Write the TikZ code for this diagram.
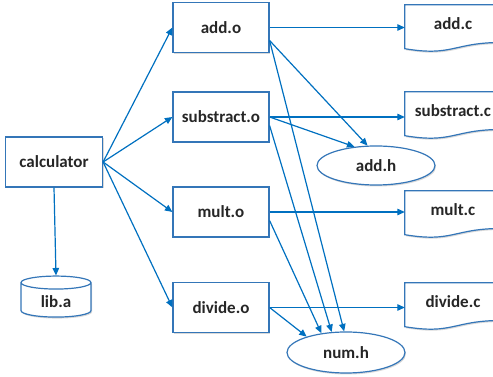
\documentclass[tikz,border=0pt]{standalone}
\usepackage{fontspec}
\setmainfont{Carlito}
\usetikzlibrary{arrows.meta}
\usetikzlibrary{calc}
\usetikzlibrary{shapes}
\usetikzlibrary{shadows}
\usetikzlibrary{backgrounds}

\definecolor{bleu}{RGB}{0,112,192}
\definecolor{bord}{RGB}{52,118,184}

\tikzset{
  ombre/.style={drop shadow={shadow xshift=1pt,shadow yshift=-1.5pt,opacity=.3}},
  obj/.style={draw=bord,line width=1.2pt,fill=white,ombre,minimum width=96pt,minimum height=50pt,
    text=black!85,font=\fontsize{17}{20}\selectfont\bfseries},
  base/.style={cylinder,shape border rotate=90,aspect=0.35,draw=bord,line width=1.2pt,fill=white,ombre,
    minimum height=41pt,minimum width=70pt,text=black!85,font=\fontsize{17}{20}\selectfont\bfseries},
  doc/.style={minimum width=96pt,minimum height=38pt,inner sep=1pt,
    text=black!85,font=\fontsize{17}{20}\selectfont\bfseries},
  entete/.style={ellipse,draw=bord,line width=1.2pt,fill=white,ombre,minimum width=118pt,minimum height=39pt,
    inner sep=0pt,text=black!85,font=\fontsize{17}{20}\selectfont\bfseries},
  fl/.style={draw=bleu,line width=1.2pt,-{Triangle[length=7.5pt,width=6.5pt]}}
}

\begin{document}
\begin{tikzpicture}[x=1pt,y=1pt]
\useasboundingbox (0,0) rectangle (493,377);
% noeuds
\node[obj,minimum width=97pt] (calc) at (54,215) {calculator};
\node[base] (liba) at (56,75.5) {lib.a};
\node[obj] (addo) at (221,349.5) {add.o};
\node[obj] (subo) at (221,260) {substract.o};
\node[obj] (multo) at (221,165) {mult.o};
\node[obj] (divo) at (221,69.5) {divide.o};
\node[doc] (addc) at (453,353) {add.c};
\node[doc] (subc) at (453,266) {substract.c};
\node[doc] (multc) at (453,167) {mult.c};
\node[doc] (divc) at (453,75) {divide.c};
\node[entete] (addh) at (376,211.5) {add.h};
\node[entete,minimum height=41pt] (numh) at (346,24.5) {num.h};
% documents
\begin{scope}[on background layer]
\foreach \n in {addc,subc,multc,divc}
  \draw[draw=bord,line width=1.2pt,fill=white,ombre] (\n.north west) -- (\n.north east)
    -- ($(\n.north east)+(0,-37.7)$)
    .. controls ($(\n.north)+(0,-37.7)$) and ($(\n.north)+(0,-52)$) .. ($(\n.north west)+(0,-43.9)$)
    -- cycle;
\end{scope}
% fleches
\foreach \o in {addo,subo,multo,divo}
  \draw[fl] (calc.east) -- (\o.west);
\draw[fl] (calc.south) -- (liba.north);
\foreach \o/\c in {addo/addc,subo/subc,multo/multc,divo/divc}
  \draw[fl] (\o.east) -- (\o.east -| \c.west);
\draw[fl] (addo.-15) -- (addh.113);
\draw[fl] (subo.east) -- (addh.139);
\draw[fl] (addo.-15) -- (numh.95);
\draw[fl] (subo.-10) -- (numh.125);
\draw[fl] (multo.-10) -- (numh.142);
\draw[fl] (divo.east) -- (numh.158);
\end{tikzpicture}
\end{document}
